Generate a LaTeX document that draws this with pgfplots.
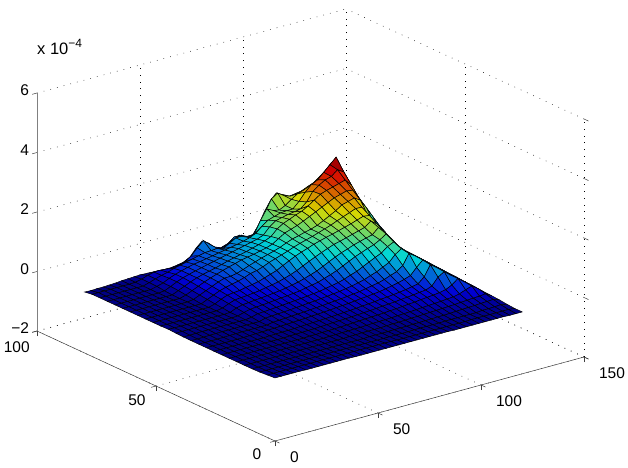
\documentclass[border=0pt]{standalone}
\usepackage{fontspec}
\setmainfont{Liberation Sans}
\usepackage{pgfplots}
\pgfplotsset{compat=1.18}
\pgfplotsset{colormap={darkjet}{rgb255(0cm)=(0,0,105) rgb255(1cm)=(0,0,215) rgb255(3cm)=(0,215,215) rgb255(5cm)=(215,215,0) rgb255(7cm)=(215,0,0) rgb255(8cm)=(100,0,0)}}
\begin{document}
\begin{tikzpicture}
\path[use as bounding box] (0pt,0pt) rectangle (628pt,467pt);
\begin{axis}[
 at={(275pt,85.5pt)},anchor=origin,
 x={(2.06pt,0.56pt)},y={(-2.38pt,1.10pt)},z={(0pt,29.75pt)},
 xmin=0,xmax=150,ymin=0,ymax=100,zmin=-2,zmax=6,
 xtick={0,50,100,150},ytick={0,50,100},ztick={-2,0,2,4,6},
 xticklabels={0,50,100,150},yticklabels={0,50,100},zticklabels={−2,0,2,4,6},
 clip=false,grid=major,
 grid style={black,line width=0.5pt,dash pattern=on 0.7pt off 6.2pt},
 axis line style={draw=none},
 tick pos=lower,
 tick align=outside,tick style={black!75,line width=0.5pt},major tick length=5pt,
 ticklabel style={font=\fontsize{15.5}{18}\selectfont},
 xticklabel style={anchor=north west,xshift=7pt,yshift=-5pt},
 yticklabel style={xshift=-6pt,yshift=-2.5pt},
 colormap name=darkjet,point meta min=0,point meta max=2.85,
]
\addplot3[surf,shader=faceted,faceted color=black,line width=0.5pt,mesh/cols=41,mesh/ordering=x varies] table {
x y z
0 0 0.12
3 0 0.12
6 0 0.12
9 0 0.12
12 0 0.12
15 0 0.11
18 0 0.11
21 0 0.11
24 0 0.11
27 0 0.11
30 0 0.11
33 0 0.11
36 0 0.11
39 0 0.1
42 0 0.1
45 0 0.1
48 0 0.1
51 0 0.1
54 0 0.1
57 0 0.1
60 0 0.1
63 0 0.1
66 0 0.1
69 0 0.1
72 0 0.1
75 0 0.1
78 0 0.1
81 0 0.1
84 0 0.1
87 0 0.09
90 0 0.09
93 0 0.09
96 0 0.09
99 0 0.09
102 0 0.09
105 0 0.09
108 0 0.09
111 0 0.09
114 0 0.08
117 0 0.08
120 0 0.08
0 3.2 0.1
3 3.2 0.1
6 3.2 0.1
9 3.2 0.1
12 3.2 0.1
15 3.2 0.1
18 3.2 0.1
21 3.2 0.1
24 3.2 0.1
27 3.2 0.1
30 3.2 0.1
33 3.2 0.1
36 3.2 0.1
39 3.2 0.1
42 3.2 0.1
45 3.2 0.1
48 3.2 0.1
51 3.2 0.1
54 3.2 0.1
57 3.2 0.1
60 3.2 0.1
63 3.2 0.09
66 3.2 0.09
69 3.2 0.09
72 3.2 0.09
75 3.2 0.09
78 3.2 0.09
81 3.2 0.09
84 3.2 0.09
87 3.2 0.09
90 3.2 0.09
93 3.2 0.09
96 3.2 0.09
99 3.2 0.1
102 3.2 0.1
105 3.2 0.1
108 3.2 0.1
111 3.2 0.1
114 3.2 0.1
117 3.2 0.1
120 3.2 0.08
0 6.4 0.08
3 6.4 0.08
6 6.4 0.08
9 6.4 0.08
12 6.4 0.08
15 6.4 0.08
18 6.4 0.08
21 6.4 0.08
24 6.4 0.08
27 6.4 0.08
30 6.4 0.08
33 6.4 0.08
36 6.4 0.08
39 6.4 0.08
42 6.4 0.08
45 6.4 0.08
48 6.4 0.08
51 6.4 0.08
54 6.4 0.08
57 6.4 0.08
60 6.4 0.08
63 6.4 0.08
66 6.4 0.08
69 6.4 0.08
72 6.4 0.08
75 6.4 0.09
78 6.4 0.09
81 6.4 0.09
84 6.4 0.09
87 6.4 0.09
90 6.4 0.1
93 6.4 0.1
96 6.4 0.1
99 6.4 0.1
102 6.4 0.1
105 6.4 0.1
108 6.4 0.12
111 6.4 0.12
114 6.4 0.13
117 6.4 0.14
120 6.4 0.1
0 9.6 0.07
3 9.6 0.07
6 9.6 0.07
9 9.6 0.07
12 9.6 0.07
15 9.6 0.07
18 9.6 0.07
21 9.6 0.07
24 9.6 0.07
27 9.6 0.07
30 9.6 0.07
33 9.6 0.07
36 9.6 0.07
39 9.6 0.07
42 9.6 0.07
45 9.6 0.07
48 9.6 0.07
51 9.6 0.07
54 9.6 0.07
57 9.6 0.08
60 9.6 0.08
63 9.6 0.08
66 9.6 0.08
69 9.6 0.09
72 9.6 0.09
75 9.6 0.09
78 9.6 0.1
81 9.6 0.1
84 9.6 0.11
87 9.6 0.11
90 9.6 0.12
93 9.6 0.12
96 9.6 0.13
99 9.6 0.14
102 9.6 0.15
105 9.6 0.16
108 9.6 0.165
111 9.6 0.18
114 9.6 0.19
117 9.6 0.2
120 9.6 0.13
0 12.8 0.07
3 12.8 0.07
6 12.8 0.07
9 12.8 0.07
12 12.8 0.07
15 12.8 0.07
18 12.8 0.07
21 12.8 0.07
24 12.8 0.07
27 12.8 0.07
30 12.8 0.07
33 12.8 0.07
36 12.8 0.07
39 12.8 0.07
42 12.8 0.07
45 12.8 0.07
48 12.8 0.07
51 12.8 0.08
54 12.8 0.08
57 12.8 0.09
60 12.8 0.09
63 12.8 0.09
66 12.8 0.09
69 12.8 0.1
72 12.8 0.11
75 12.8 0.11
78 12.8 0.12
81 12.8 0.13
84 12.8 0.135
87 12.8 0.145
90 12.8 0.155
93 12.8 0.165
96 12.8 0.175
99 12.8 0.185
102 12.8 0.195
105 12.8 0.21
108 12.8 0.225
111 12.8 0.24
114 12.8 0.25
117 12.8 0.27
120 12.8 0.15
0 16 0.07
3 16 0.07
6 16 0.07
9 16 0.07
12 16 0.07
15 16 0.07
18 16 0.07
21 16 0.07
24 16 0.07
27 16 0.07
30 16 0.07
33 16 0.07
36 16 0.07
39 16 0.07
42 16 0.07
45 16 0.08
48 16 0.08
51 16 0.09
54 16 0.09
57 16 0.1
60 16 0.1
63 16 0.11
66 16 0.12
69 16 0.125
72 16 0.13
75 16 0.14
78 16 0.15
81 16 0.16
84 16 0.17
87 16 0.185
90 16 0.2
93 16 0.21
96 16 0.225
99 16 0.24
102 16 0.26
105 16 0.275
108 16 0.32
111 16 0.4
114 16 0.47
117 16 0.33
120 16 0.16
0 19.2 0.07
3 19.2 0.07
6 19.2 0.07
9 19.2 0.07
12 19.2 0.07
15 19.2 0.07
18 19.2 0.07
21 19.2 0.07
24 19.2 0.07
27 19.2 0.07
30 19.2 0.07
33 19.2 0.07
36 19.2 0.07
39 19.2 0.08
42 19.2 0.08
45 19.2 0.09
48 19.2 0.095
51 19.2 0.1
54 19.2 0.105
57 19.2 0.115
60 19.2 0.13
63 19.2 0.14
66 19.2 0.15
69 19.2 0.16
72 19.2 0.17
75 19.2 0.18
78 19.2 0.2
81 19.2 0.21
84 19.2 0.23
87 19.2 0.25
90 19.2 0.265
93 19.2 0.29
96 19.2 0.31
99 19.2 0.33
102 19.2 0.355
105 19.2 0.4
108 19.2 0.5
111 19.2 0.66
114 19.2 0.5
117 19.2 0.35
120 19.2 0.18
0 22.4 0.07
3 22.4 0.07
6 22.4 0.07
9 22.4 0.07
12 22.4 0.07
15 22.4 0.07
18 22.4 0.07
21 22.4 0.07
24 22.4 0.07
27 22.4 0.07
30 22.4 0.07
33 22.4 0.08
36 22.4 0.085
39 22.4 0.09
42 22.4 0.095
45 22.4 0.1
48 22.4 0.11
51 22.4 0.12
54 22.4 0.13
57 22.4 0.14
60 22.4 0.15
63 22.4 0.16
66 22.4 0.17
69 22.4 0.185
72 22.4 0.2
75 22.4 0.215
78 22.4 0.235
81 22.4 0.25
84 22.4 0.265
87 22.4 0.29
90 22.4 0.31
93 22.4 0.33
96 22.4 0.36
99 22.4 0.38
102 22.4 0.46
105 22.4 0.7
108 22.4 0.83
111 22.4 0.66
114 22.4 0.53
117 22.4 0.36
120 22.4 0.19
0 25.6 0.07
3 25.6 0.07
6 25.6 0.07
9 25.6 0.07
12 25.6 0.07
15 25.6 0.07
18 25.6 0.07
21 25.6 0.07
24 25.6 0.07
27 25.6 0.08
30 25.6 0.085
33 25.6 0.09
36 25.6 0.095
39 25.6 0.1
42 25.6 0.11
45 25.6 0.12
48 25.6 0.13
51 25.6 0.14
54 25.6 0.15
57 25.6 0.16
60 25.6 0.17
63 25.6 0.185
66 25.6 0.2
69 25.6 0.215
72 25.6 0.235
75 25.6 0.25
78 25.6 0.27
81 25.6 0.295
84 25.6 0.31
87 25.6 0.335
90 25.6 0.36
93 25.6 0.39
96 25.6 0.43
99 25.6 0.47
102 25.6 0.65
105 25.6 1.0
108 25.6 0.85
111 25.6 0.7
114 25.6 0.54
117 25.6 0.38
120 25.6 0.21
0 28.8 0.07
3 28.8 0.07
6 28.8 0.07
9 28.8 0.07
12 28.8 0.07
15 28.8 0.07
18 28.8 0.075
21 28.8 0.08
24 28.8 0.09
27 28.8 0.095
30 28.8 0.1
33 28.8 0.105
36 28.8 0.115
39 28.8 0.125
42 28.8 0.135
45 28.8 0.145
48 28.8 0.155
51 28.8 0.17
54 28.8 0.18
57 28.8 0.195
60 28.8 0.21
63 28.8 0.23
66 28.8 0.245
69 28.8 0.26
72 28.8 0.285
75 28.8 0.31
78 28.8 0.325
81 28.8 0.35
84 28.8 0.375
87 28.8 0.41
90 28.8 0.455
93 28.8 0.5
96 28.8 0.56
99 28.8 0.63
102 28.8 0.85
105 28.8 1.04
108 28.8 0.89
111 28.8 0.72
114 28.8 0.56
117 28.8 0.39
120 28.8 0.22
0 32 0.07
3 32 0.07
6 32 0.07
9 32 0.07
12 32 0.075
15 32 0.08
18 32 0.085
21 32 0.09
24 32 0.09
27 32 0.09
30 32 0.09
33 32 0.09
36 32 0.13
39 32 0.14
42 32 0.155
45 32 0.165
48 32 0.18
51 32 0.19
54 32 0.21
57 32 0.225
60 32 0.24
63 32 0.26
66 32 0.28
69 32 0.3
72 32 0.32
75 32 0.345
78 32 0.37
81 32 0.41
84 32 0.45
87 32 0.49
90 32 0.55
93 32 0.63
96 32 0.7
99 32 0.85
102 32 1.2
105 32 1.06
108 32 0.9
111 32 0.74
114 32 0.57
117 32 0.41
120 32 0.24
0 35.2 0.07
3 35.2 0.07
6 35.2 0.075
9 35.2 0.08
12 35.2 0.085
15 35.2 0.09
18 35.2 0.09
21 35.2 0.09
24 35.2 0.09
27 35.2 0.09
30 35.2 0.09
33 35.2 0.09
36 35.2 0.15
39 35.2 0.165
42 35.2 0.18
45 35.2 0.19
48 35.2 0.205
51 35.2 0.225
54 35.2 0.24
57 35.2 0.26
60 35.2 0.275
63 35.2 0.3
66 35.2 0.32
69 35.2 0.345
72 35.2 0.37
75 35.2 0.405
78 35.2 0.44
81 35.2 0.49
84 35.2 0.54
87 35.2 0.62
90 35.2 0.69
93 35.2 0.79
96 35.2 0.89
99 35.2 1.1
102 35.2 1.24
105 35.2 1.08
108 35.2 0.92
111 35.2 0.76
114 35.2 0.59
117 35.2 0.42
120 35.2 0.25
0 38.4 0.075
3 38.4 0.08
6 38.4 0.085
9 38.4 0.09
12 38.4 0.09
15 38.4 0.09
18 38.4 0.09
21 38.4 0.09
24 38.4 0.09
27 38.4 0.09
30 38.4 0.09
33 38.4 0.12
36 38.4 0.18
39 38.4 0.19
42 38.4 0.21
45 38.4 0.225
48 38.4 0.24
51 38.4 0.26
54 38.4 0.28
57 38.4 0.3
60 38.4 0.32
63 38.4 0.345
66 38.4 0.37
69 38.4 0.41
72 38.4 0.45
75 38.4 0.49
78 38.4 0.55
81 38.4 0.63
84 38.4 0.7
87 38.4 0.8
90 38.4 0.9
93 38.4 1.0
96 38.4 1.09
99 38.4 1.25
102 38.4 1.35
105 38.4 1.09
108 38.4 0.93
111 38.4 0.77
114 38.4 0.6
117 38.4 0.43
120 38.4 0.26
0 41.6 0.085
3 41.6 0.09
6 41.6 0.09
9 41.6 0.09
12 41.6 0.09
15 41.6 0.09
18 41.6 0.09
21 41.6 0.09
24 41.6 0.09
27 41.6 0.09
30 41.6 0.1
33 41.6 0.16
36 41.6 0.21
39 41.6 0.23
42 41.6 0.245
45 41.6 0.265
48 41.6 0.285
51 41.6 0.31
54 41.6 0.325
57 41.6 0.35
60 41.6 0.375
63 41.6 0.42
66 41.6 0.46
69 41.6 0.5
72 41.6 0.57
75 41.6 0.64
78 41.6 0.72
81 41.6 0.82
84 41.6 0.92
87 41.6 1.02
90 41.6 1.1
93 41.6 1.18
96 41.6 1.25
99 41.6 1.36
102 41.6 1.5
105 41.6 1.26
108 41.6 0.98
111 41.6 0.78
114 41.6 0.62
117 41.6 0.45
120 41.6 0.28
0 44.8 0.1
3 44.8 0.09
6 44.8 0.09
9 44.8 0.09
12 44.8 0.09
15 44.8 0.09
18 44.8 0.09
21 44.8 0.09
24 44.8 0.09
27 44.8 0.09
30 44.8 0.1
33 44.8 0.19
36 44.8 0.245
39 44.8 0.26
42 44.8 0.285
45 44.8 0.305
48 44.8 0.325
51 44.8 0.35
54 44.8 0.375
57 44.8 0.41
60 44.8 0.455
63 44.8 0.5
66 44.8 0.56
69 44.8 0.63
72 44.8 0.7
75 44.8 0.8
78 44.8 0.9
81 44.8 1.0
84 44.8 1.09
87 44.8 1.16
90 44.8 1.24
93 44.8 1.3
96 44.8 1.36
99 44.8 1.41
102 44.8 1.6
105 44.8 1.4
108 44.8 1.12
111 44.8 0.84
114 44.8 0.63
117 44.8 0.46
120 44.8 0.3
0 48 0.09
3 48 0.09
6 48 0.09
9 48 0.09
12 48 0.09
15 48 0.09
18 48 0.09
21 48 0.09
24 48 0.09
27 48 0.09
30 48 0.13
33 48 0.22
36 48 0.29
39 48 0.31
42 48 0.325
45 48 0.35
48 48 0.375
51 48 0.42
54 48 0.455
57 48 0.5
60 48 0.56
63 48 0.63
66 48 0.71
69 48 0.81
72 48 0.91
75 48 1.0
78 48 1.09
81 48 1.17
84 48 1.25
87 48 1.3
90 48 1.36
93 48 1.42
96 48 1.48
99 48 1.54
102 48 1.7
105 48 1.54
108 48 1.23
111 48 0.96
114 48 0.67
117 48 0.48
120 48 0.31
0 51.2 0.09
3 51.2 0.09
6 51.2 0.09
9 51.2 0.09
12 51.2 0.09
15 51.2 0.09
18 51.2 0.09
21 51.2 0.09
24 51.2 0.09
27 51.2 0.09
30 51.2 0.15
33 51.2 0.25
36 51.2 0.33
39 51.2 0.355
42 51.2 0.375
45 51.2 0.42
48 51.2 0.46
51 51.2 0.5
54 51.2 0.57
57 51.2 0.64
60 51.2 0.71
63 51.2 0.82
66 51.2 0.92
69 51.2 1.02
72 51.2 1.1
75 51.2 1.17
78 51.2 1.25
81 51.2 1.31
84 51.2 1.37
87 51.2 1.42
90 51.2 1.48
93 51.2 1.54
96 51.2 1.6
99 51.2 1.67
102 51.2 1.74
105 51.2 1.71
108 51.2 1.37
111 51.2 1.04
114 51.2 0.77
117 51.2 0.49
120 51.2 0.33
0 54.4 0.09
3 54.4 0.09
6 54.4 0.09
9 54.4 0.09
12 54.4 0.09
15 54.4 0.09
18 54.4 0.09
21 54.4 0.09
24 54.4 0.09
27 54.4 0.09
30 54.4 0.18
33 54.4 0.27
36 54.4 0.36
39 54.4 0.42
42 54.4 0.47
45 54.4 0.515
48 54.4 0.58
51 54.4 0.66
54 54.4 0.7
57 54.4 0.77
60 54.4 0.86
63 54.4 0.93
66 54.4 1.0
69 54.4 1.07
72 54.4 1.15
75 54.4 1.22
78 54.4 1.28
81 54.4 1.34
84 54.4 1.41
87 54.4 1.48
90 54.4 1.55
93 54.4 1.64
96 54.4 1.72
99 54.4 1.8
102 54.4 1.88
105 54.4 1.87
108 54.4 1.53
111 54.4 1.19
114 54.4 0.88
117 54.4 0.6
120 54.4 0.36
0 57.6 0.09
3 57.6 0.09
6 57.6 0.09
9 57.6 0.09
12 57.6 0.09
15 57.6 0.09
18 57.6 0.09
21 57.6 0.09
24 57.6 0.09
27 57.6 0.12
30 57.6 0.21
33 57.6 0.3
36 57.6 0.39
39 57.6 0.48
42 57.6 0.55
45 57.6 0.56
48 57.6 0.6
51 57.6 0.67
54 57.6 0.75
57 57.6 0.82
60 57.6 0.89
63 57.6 0.95
66 57.6 1.01
69 57.6 1.08
72 57.6 1.17
75 57.6 1.25
78 57.6 1.3
81 57.6 1.36
84 57.6 1.41
87 57.6 1.48
90 57.6 1.58
93 57.6 1.69
96 57.6 1.8
99 57.6 1.94
102 57.6 2.0
105 57.6 2.06
108 57.6 1.93
111 57.6 1.61
114 57.6 1.27
117 57.6 0.93
120 57.6 0.64
0 60.8 0.09
3 60.8 0.09
6 60.8 0.09
9 60.8 0.09
12 60.8 0.09
15 60.8 0.09
18 60.8 0.09
21 60.8 0.09
24 60.8 0.09
27 60.8 0.15
30 60.8 0.24
33 60.8 0.33
36 60.8 0.42
39 60.8 0.5
42 60.8 0.57
45 60.8 0.64
48 60.8 0.7
51 60.8 0.76
54 60.8 0.82
57 60.8 0.86
60 60.8 0.9
63 60.8 0.95
66 60.8 1.0
69 60.8 1.07
72 60.8 1.2
75 60.8 1.33
78 60.8 1.4
81 60.8 1.47
84 60.8 1.56
87 60.8 1.66
90 60.8 1.76
93 60.8 1.86
96 60.8 1.96
99 60.8 2.06
102 60.8 2.12
105 60.8 2.18
108 60.8 2.15
111 60.8 1.83
114 60.8 1.49
117 60.8 1.15
120 60.8 0.81
0 64 0.09
3 64 0.09
6 64 0.09
9 64 0.09
12 64 0.09
15 64 0.09
18 64 0.09
21 64 0.09
24 64 0.09
27 64 0.18
30 64 0.27
33 64 0.36
36 64 0.44
39 64 0.5
42 64 0.55
45 64 0.6
48 64 0.66
51 64 0.72
54 64 0.77
57 64 0.82
60 64 0.87
63 64 0.93
66 64 0.99
69 64 1.06
72 64 1.15
75 64 1.35
78 64 1.48
81 64 1.56
84 64 1.65
87 64 1.72
90 64 1.84
93 64 1.98
96 64 2.12
99 64 2.19
102 64 2.25
105 64 2.31
108 64 2.37
111 64 2.15
114 64 1.72
117 64 1.38
120 64 1.04
0 67.2 0.09
3 67.2 0.09
6 67.2 0.09
9 67.2 0.09
12 67.2 0.09
15 67.2 0.09
18 67.2 0.09
21 67.2 0.09
24 67.2 0.11
27 67.2 0.2
30 67.2 0.3
33 67.2 0.38
36 67.2 0.44
39 67.2 0.5
42 67.2 0.55
45 67.2 0.6
48 67.2 0.65
51 67.2 0.7
54 67.2 0.75
57 67.2 0.8
60 67.2 0.85
63 67.2 0.9
66 67.2 0.95
69 67.2 1.0
72 67.2 1.08
75 67.2 1.3
78 67.2 1.45
81 67.2 1.5
84 67.2 1.55
87 67.2 1.58
90 67.2 1.62
93 67.2 1.8
96 67.2 2.1
99 67.2 2.25
102 67.2 2.37
105 67.2 2.43
108 67.2 2.6
111 67.2 2.47
114 67.2 2.04
117 67.2 1.62
120 67.2 1.26
0 70.4 0.09
3 70.4 0.09
6 70.4 0.09
9 70.4 0.09
12 70.4 0.09
15 70.4 0.09
18 70.4 0.09
21 70.4 0.09
24 70.4 0.14
27 70.4 0.2
30 70.4 0.3
33 70.4 0.38
36 70.4 0.44
39 70.4 0.5
42 70.4 0.55
45 70.4 0.58
48 70.4 0.62
51 70.4 0.66
54 70.4 0.7
57 70.4 0.74
60 70.4 0.78
63 70.4 0.82
66 70.4 0.87
69 70.4 0.93
72 70.4 1.02
75 70.4 1.2
78 70.4 1.35
81 70.4 1.42
84 70.4 1.48
87 70.4 1.5
90 70.4 1.5
93 70.4 1.7
96 70.4 1.95
99 70.4 2.15
102 70.4 2.25
105 70.4 2.45
108 70.4 2.65
111 70.4 2.85
114 70.4 2.39
117 70.4 1.97
120 70.4 1.54
0 73.6 0.09
3 73.6 0.09
6 73.6 0.09
9 73.6 0.09
12 73.6 0.09
15 73.6 0.09
18 73.6 0.09
21 73.6 0.09
24 73.6 0.15
27 73.6 0.22
30 73.6 0.28
33 73.6 0.33
36 73.6 0.4
39 73.6 0.45
42 73.6 0.5
45 73.6 0.55
48 73.6 0.6
51 73.6 0.65
54 73.6 0.66
57 73.6 0.68
60 73.6 0.62
63 73.6 0.74
66 73.6 0.86
69 73.6 0.86
72 73.6 0.78
75 73.6 0.82
78 73.6 1.22
81 73.6 1.55
84 73.6 1.45
87 73.6 1.4
90 73.6 1.5
93 73.6 1.65
96 73.6 1.78
99 73.6 1.85
102 73.6 1.95
105 73.6 2.03
108 73.6 2.2
111 73.6 2.35
114 73.6 2.3
117 73.6 2.0
120 73.6 1.6
0 76.8 0.09
3 76.8 0.09
6 76.8 0.09
9 76.8 0.09
12 76.8 0.09
15 76.8 0.09
18 76.8 0.09
21 76.8 0.1
24 76.8 0.15
27 76.8 0.22
30 76.8 0.27
33 76.8 0.28
36 76.8 0.26
39 76.8 0.25
42 76.8 0.29
45 76.8 0.33
48 76.8 0.47
51 76.8 0.69
54 76.8 0.88
57 76.8 0.7
60 76.8 0.5
63 76.8 0.46
66 76.8 0.56
69 76.8 0.72
72 76.8 0.72
75 76.8 0.62
78 76.8 0.55
81 76.8 0.93
84 76.8 1.27
87 76.8 1.66
90 76.8 1.8
93 76.8 1.66
96 76.8 1.58
99 76.8 1.6
102 76.8 1.65
105 76.8 1.74
108 76.8 1.82
111 76.8 2.0
114 76.8 2.15
117 76.8 2.3
120 76.8 2.2
0 80 0.05
3 80 0.04
6 80 0.05
9 80 0.05
12 80 0.06
15 80 0.07
18 80 0.09
21 80 0.1
24 80 0.11
27 80 0.12
30 80 0.11
33 80 0.1
36 80 0.09
39 80 0.08
42 80 0.08
45 80 0.11
48 80 0.15
51 80 0.25
54 80 0.5
57 80 0.69
60 80 0.57
63 80 0.38
66 80 0.29
69 80 0.33
72 80 0.44
75 80 0.55
78 80 0.46
81 80 0.37
84 80 0.66
87 80 1.07
90 80 1.41
93 80 1.63
96 80 1.52
99 80 1.4
102 80 1.43
105 80 1.46
108 80 1.55
111 80 1.63
114 80 1.77
117 80 1.95
120 80 2.16
};
\draw[black!75,line width=0.5pt] (axis cs:0,0,-2)--(axis cs:150,0,-2);
\draw[black!75,line width=0.5pt] (axis cs:0,0,-2)--(axis cs:0,100,-2);
\draw[black!50,line width=0.8pt] (axis cs:0,100,-2)--(axis cs:0,100,6);
\end{axis}
\node[anchor=base west,inner sep=0pt] at (37pt,412pt) {\fontsize{16.5}{18}\selectfont x 10\raisebox{7pt}{\fontsize{12}{14}\selectfont −4}};
\end{tikzpicture}
\end{document}
